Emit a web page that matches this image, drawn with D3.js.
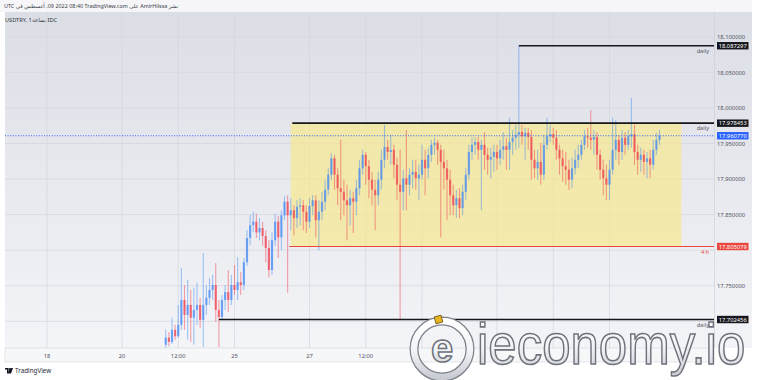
<!DOCTYPE html>
<html><head><meta charset="utf-8">
<script src="https://cdn.jsdelivr.net/npm/d3@7"></script>
<style>html,body{margin:0;padding:0;background:#fff;overflow:hidden}svg{display:block;font-family:"Noto Sans","DejaVu Sans",sans-serif}</style>
</head><body><svg id="c" width="757" height="380"></svg>
<script>
// ---- data (USDTRY, 1h, IDC) ----
const opens=[17.667,17.677,17.671,17.688,17.679,17.695,17.730,17.709,17.723,17.705,
17.716,17.723,17.702,17.723,17.733,17.744,17.751,17.716,17.706,17.730,
17.741,17.730,17.751,17.744,17.755,17.751,17.783,17.817,17.835,17.840,
17.825,17.831,17.820,17.803,17.772,17.814,17.840,17.818,17.849,17.868,
17.849,17.856,17.845,17.861,17.863,17.854,17.840,17.862,17.870,17.842,
17.854,17.868,17.885,17.906,17.929,17.906,17.887,17.882,17.870,17.863,
17.873,17.868,17.887,17.915,17.934,17.918,17.899,17.885,17.877,17.899,
17.927,17.945,17.938,17.941,17.920,17.892,17.882,17.901,17.892,17.906,
17.910,17.901,17.906,17.927,17.915,17.934,17.948,17.951,17.941,17.924,
17.915,17.899,17.877,17.863,17.873,17.859,17.882,17.906,17.938,17.948,
17.952,17.941,17.948,17.934,17.927,17.931,17.938,17.929,17.941,17.946,
17.941,17.952,17.958,17.962,17.966,17.960,17.965,17.959,17.927,17.915,
17.924,17.906,17.948,17.960,17.963,17.958,17.941,17.929,17.918,17.913,
17.899,17.915,17.927,17.934,17.948,17.960,17.958,17.955,17.959,17.934,
17.913,17.901,17.892,17.913,17.941,17.955,17.938,17.958,17.948,17.960,
17.963,17.938,17.927,17.934,17.924,17.929,17.920,17.941,17.955];
const highs=[17.688,17.685,17.705,17.695,17.723,17.775,17.751,17.758,17.744,17.747,
17.754,17.733,17.796,17.751,17.761,17.765,17.782,17.730,17.737,17.751,
17.772,17.765,17.779,17.790,17.769,17.789,17.828,17.849,17.854,17.851,
17.845,17.840,17.828,17.814,17.825,17.851,17.848,17.856,17.876,17.877,
17.873,17.863,17.870,17.873,17.870,17.863,17.873,17.877,17.877,17.870,
17.882,17.899,17.915,17.936,17.934,17.915,17.955,17.899,17.892,17.885,
17.882,17.899,17.927,17.941,17.938,17.927,17.910,17.899,17.910,17.941,
17.976,17.955,17.962,17.948,17.930,17.941,17.913,17.969,17.915,17.927,
17.927,17.920,17.948,17.941,17.944,17.955,17.958,17.955,17.948,17.941,
17.927,17.913,17.892,17.885,17.887,17.892,17.915,17.948,17.958,17.958,
17.959,17.955,17.966,17.944,17.944,17.948,17.948,17.955,17.966,17.958,
17.986,17.969,17.976,18.087,17.976,17.972,17.972,17.969,17.941,17.941,
17.951,17.962,17.986,17.976,17.972,17.969,17.948,17.941,17.938,17.927,
17.930,17.941,17.948,17.955,17.969,17.972,17.997,17.969,17.966,17.941,
17.927,17.920,17.927,17.986,17.983,17.962,17.969,17.966,17.969,18.014,
17.976,17.948,17.944,17.941,17.938,17.941,17.955,17.965,17.969];
const lows=[17.662,17.665,17.668,17.674,17.677,17.688,17.688,17.674,17.671,17.667,
17.695,17.691,17.664,17.709,17.723,17.730,17.699,17.664,17.702,17.716,
17.713,17.723,17.737,17.730,17.737,17.744,17.778,17.807,17.825,17.817,
17.814,17.806,17.783,17.762,17.765,17.806,17.789,17.800,17.842,17.740,
17.828,17.821,17.831,17.835,17.828,17.824,17.831,17.849,17.818,17.800,
17.842,17.856,17.877,17.899,17.885,17.863,17.842,17.849,17.814,17.835,
17.824,17.849,17.877,17.906,17.892,17.873,17.863,17.828,17.863,17.885,
17.915,17.927,17.920,17.901,17.870,17.702,17.856,17.856,17.877,17.887,
17.885,17.870,17.899,17.877,17.901,17.924,17.934,17.920,17.818,17.885,
17.842,17.849,17.849,17.845,17.845,17.849,17.870,17.899,17.927,17.934,
17.927,17.856,17.913,17.906,17.901,17.910,17.913,17.920,17.927,17.913,
17.913,17.934,17.941,17.944,17.948,17.927,17.941,17.899,17.901,17.899,
17.892,17.899,17.941,17.952,17.948,17.927,17.906,17.896,17.892,17.885,
17.887,17.906,17.915,17.927,17.941,17.944,17.941,17.934,17.913,17.899,
17.877,17.870,17.870,17.906,17.927,17.920,17.927,17.934,17.941,17.944,
17.920,17.906,17.910,17.906,17.901,17.901,17.913,17.934,17.948];
const closes=[17.677,17.671,17.688,17.679,17.695,17.730,17.709,17.723,17.705,17.716,
17.723,17.702,17.723,17.733,17.744,17.751,17.716,17.706,17.730,17.741,
17.730,17.751,17.744,17.755,17.751,17.783,17.817,17.835,17.840,17.825,
17.831,17.820,17.803,17.772,17.814,17.840,17.818,17.849,17.868,17.849,
17.856,17.845,17.861,17.863,17.854,17.840,17.862,17.870,17.842,17.854,
17.868,17.885,17.906,17.929,17.906,17.887,17.882,17.870,17.863,17.873,
17.868,17.887,17.915,17.934,17.918,17.899,17.885,17.877,17.899,17.927,
17.945,17.938,17.941,17.920,17.892,17.882,17.901,17.892,17.906,17.910,
17.901,17.906,17.927,17.915,17.934,17.948,17.951,17.941,17.924,17.915,
17.899,17.877,17.863,17.873,17.859,17.882,17.906,17.938,17.948,17.952,
17.941,17.948,17.934,17.927,17.931,17.938,17.929,17.941,17.946,17.941,
17.952,17.958,17.962,17.966,17.960,17.965,17.959,17.927,17.915,17.924,
17.906,17.948,17.960,17.963,17.958,17.941,17.929,17.918,17.913,17.899,
17.915,17.927,17.934,17.948,17.960,17.958,17.955,17.959,17.934,17.913,
17.901,17.892,17.913,17.941,17.955,17.938,17.958,17.948,17.960,17.963,
17.938,17.927,17.934,17.924,17.929,17.920,17.941,17.955,17.96077];
const firstCandleHour=76, candleHourStep=2;   // trading hours since 18 Jul 00:00
const priceTicks=[18.10,18.05,18.00,17.95,17.90,17.85,17.80,17.75,17.70];
const timeTickHours=[0,48,84,120,168,204];
const timeTickLabels=["18","20","12:00","25","27","12:00"];
const hiddenGridHours=[240,288,324,360];   // gridlines whose labels sit under the watermark
const levelPrices=[18.087297,17.978453,17.805079,17.702456];
const levelStartHours=[302,157,155,110];
const levelNames=["daily","daily","4 h","daily"];
const levelKinds=["black","black","red","black"];
const lastPrice=17.960770;
const zoneTop=17.978453, zoneBottom=17.805079, zoneStartHour=156, zoneEndHour=406;
const headerLine1=["UTC","في","أغسطس",",09","2022","08:40","TradingView.com","على","AmirHilssa","نشر"];
const headerLine2=["USDTRY, 1","ساعة",", IDC"];

// ---- layout ----
const W=757,H=380, paneL=5,paneR=714,paneT=12,paneB=348,axR=752,timeB=362;
const svg=d3.select("#c");
const y=d3.scaleLinear().domain([17.75,18.10]).range([285.7,36.7]);
const x=d3.scaleLinear().domain([0,48]).range([47,122]);
const colors={black:"#16171c",red:"#e8473e",blue:"#2962ff"};

const defs=svg.append("defs");
const g1=defs.append("linearGradient").attr("id","bg").attr("x1",0).attr("y1",0).attr("x2",0).attr("y2",1);
g1.append("stop").attr("offset","0%").attr("stop-color","#dcdee6");
g1.append("stop").attr("offset","100%").attr("stop-color","#f3f4f7");
const g2=defs.append("linearGradient").attr("id","wm").attr("x1",0).attr("y1",0).attr("x2",0).attr("y2",1);
g2.append("stop").attr("offset","0%").attr("stop-color","#ffffff");
g2.append("stop").attr("offset","55%").attr("stop-color","#f2f3f6");
g2.append("stop").attr("offset","100%").attr("stop-color","#c9ccd3");
defs.append("clipPath").attr("id","pane").append("rect").attr("x",paneL).attr("y",paneT).attr("width",paneR-paneL).attr("height",paneB-paneT);

svg.append("rect").attr("width",W).attr("height",H).attr("fill","#fff");
svg.append("rect").attr("x",0).attr("y",0).attr("width",axR).attr("height",paneT).attr("fill","#f6f6f8");
svg.append("rect").attr("x",paneL).attr("y",paneT).attr("width",axR-paneL).attr("height",paneB-paneT).attr("fill","url(#bg)");

const pane=svg.append("g").attr("clip-path","url(#pane)");
// grid
pane.selectAll(".hg").data(priceTicks).join("line").attr("x1",paneL).attr("x2",paneR)
 .attr("y1",d=>y(d)).attr("y2",d=>y(d)).attr("stroke","#d2d5dc").attr("stroke-width",0.7);
pane.selectAll(".vg").data(timeTickHours.concat(hiddenGridHours)).join("line").attr("y1",paneT).attr("y2",paneB)
 .attr("x1",d=>x(d)).attr("x2",d=>x(d)).attr("stroke","#d2d5dc").attr("stroke-width",0.7);
// zone
pane.append("rect").attr("x",x(zoneStartHour)).attr("width",x(zoneEndHour)-x(zoneStartHour))
 .attr("y",y(zoneTop)).attr("height",y(zoneBottom)-y(zoneTop)).attr("fill","#f6e88e").attr("opacity",0.7);
// candles
const candles=closes.map((c,i)=>({t:firstCandleHour+i*candleHourStep,o:opens[i],h:highs[i],l:lows[i],c}));
const upC="#3c86f4", dnC="#f0364a";
pane.selectAll(".wk").data(candles).join("line").attr("x1",d=>x(d.t)).attr("x2",d=>x(d.t))
 .attr("y1",d=>y(d.h)).attr("y2",d=>y(d.l)).attr("stroke",d=>d.c>=d.o?upC:dnC).attr("stroke-width",1.1).attr("opacity",0.45);
pane.selectAll(".bd").data(candles).join("rect").attr("x",d=>x(d.t)-1.1).attr("width",2.2)
 .attr("y",d=>y(Math.max(d.o,d.c))).attr("height",d=>Math.max(1,Math.abs(y(d.o)-y(d.c))))
 .attr("fill",d=>d.c>=d.o?upC:dnC).attr("opacity",0.66);
// last price dotted line
pane.append("line").attr("x1",paneL).attr("x2",paneR).attr("y1",y(lastPrice)).attr("y2",y(lastPrice))
 .attr("stroke",colors.blue).attr("stroke-width",1).attr("stroke-dasharray","1,1.6");
// levels
levelPrices.forEach((p,i)=>{
  const k=levelKinds[i];
  pane.append("line").attr("x1",x(levelStartHours[i])).attr("x2",paneR).attr("y1",y(p)).attr("y2",y(p))
   .attr("stroke",colors[k]).attr("stroke-width",k==="red"?1.2:1.6);
  pane.append("text").attr("x",709).attr("y",y(p)+7).attr("text-anchor","end").attr("font-size",5.6)
   .attr("fill",k==="red"?colors.red:"#555a64").text(levelNames[i]);
});
// price axis (tick labels covered by a level box are not drawn)
svg.append("line").attr("x1",paneR+0.5).attr("x2",paneR+0.5).attr("y1",paneT).attr("y2",paneB).attr("stroke","#c9ccd4").attr("stroke-width",0.6);
const shownTicks=priceTicks.filter(t=>levelPrices.every(p=>Math.abs(y(t)-y(p))>5));
const ax=svg.append("g").attr("transform",`translate(${paneR+3},0)`)
 .call(d3.axisRight(y).tickValues(shownTicks).tickFormat(d3.format(".6f")).tickSize(0).tickPadding(0));
ax.select(".domain").remove();
ax.selectAll("text").attr("font-size",5.8).attr("fill","#50535e").attr("font-family","Noto Sans, DejaVu Sans, sans-serif");
const boxes=levelPrices.map((p,i)=>({p,col:colors[levelKinds[i]]})).concat([{p:lastPrice,col:colors.blue}]);
boxes.forEach(b=>{
  svg.append("rect").attr("x",717).attr("y",y(b.p)-3.7).attr("width",31.5).attr("height",7.4).attr("fill",b.col);
  svg.append("text").attr("x",732.7).attr("y",y(b.p)+2).attr("text-anchor","middle").attr("font-size",5.8)
   .attr("fill","#fff").text(d3.format(".6f")(b.p));
});
// time axis
svg.append("rect").attr("x",paneL).attr("y",paneB).attr("width",paneR-paneL).attr("height",timeB-paneB)
 .attr("fill","#f6f7f9").attr("stroke","#d6d8de").attr("stroke-width",0.6);
svg.selectAll(".tl").data(timeTickHours).join("text").attr("x",d=>x(d)).attr("y",357.5).attr("text-anchor","middle")
 .attr("font-size",5.8).attr("fill","#50535e").text((d,i)=>timeTickLabels[i]);
// header (tokens laid out left to right, as displayed)
function row(tokens,gaps,x0,yy,size,fill){
  let cx=x0;
  tokens.forEach((t,i)=>{const el=svg.append("text").attr("x",cx).attr("y",yy).attr("font-size",size).attr("fill",fill).text(t);
    cx+=el.node().getComputedTextLength()+size*gaps[i];});
}
row(headerLine1,headerLine1.map(()=>0.28),4,7.5,5.4,"#3a3d45");
row(headerLine2,[0.05,0,0],5,22,5.6,"#2f323a");
// TradingView footer
const tv=svg.append("g").attr("transform","translate(5,368)");
tv.append("path").attr("d","M0,0h3.6v5.5h-1.6v-3.9h-2z M4.3,0h1.7l-1.2,5.5h-1.3z M6.2,0h1.8l-2,5.5h-1.5z").attr("fill","#131722");
tv.append("text").attr("x",10).attr("y",5.3).attr("font-size",6.3).attr("fill","#2a2e39").text("TradingView");
// watermark
const wm=svg.append("g").attr("font-family","Liberation Sans, Arial, sans-serif");
wm.append("circle").attr("cx",442).attr("cy",349).attr("r",28).attr("fill","none").attr("stroke","#7d818a").attr("stroke-width",9);
wm.append("circle").attr("cx",442).attr("cy",349).attr("r",28).attr("fill","none").attr("stroke","url(#wm)").attr("stroke-width",6.5);
wm.append("text").attr("x",442).attr("y",362).attr("text-anchor","middle").attr("font-size",40).attr("font-weight","bold")
 .attr("fill","url(#wm)").attr("stroke","#6e727b").attr("stroke-width",1.5).text("e");
wm.append("rect").attr("x",435).attr("y",316).attr("width",7).attr("height",7).attr("fill","#e7b526").attr("stroke","#6b5410").attr("stroke-width",0.8)
 .attr("transform","rotate(-15 438.5 319.5)");
wm.append("text").attr("transform","translate(477,364) scale(1,1.12)").attr("font-size",51)
 .attr("fill","url(#wm)").attr("stroke","#6e727b").attr("stroke-width",1.4).text("ieconomy.io");
</script></body></html>
